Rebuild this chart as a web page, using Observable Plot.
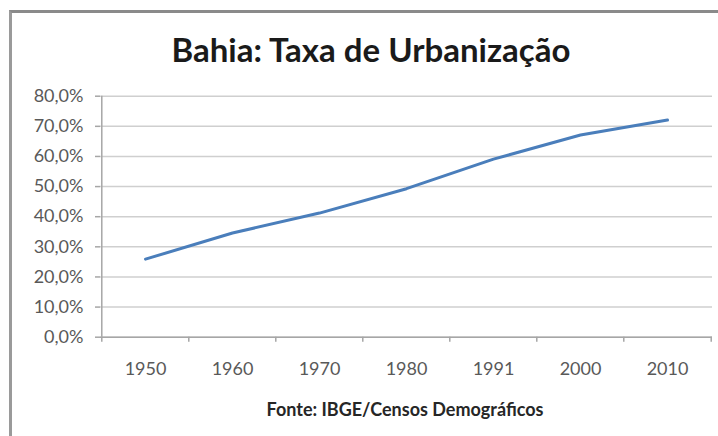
<!DOCTYPE html>
<html>
<head>
<meta charset="utf-8">
<script src="https://cdn.jsdelivr.net/npm/d3@7"></script>
<script src="https://cdn.jsdelivr.net/npm/@observablehq/plot@0.6"></script>
<style>
  html, body { margin: 0; padding: 0; background: #fff; }
  #wrap { position: relative; width: 718px; height: 436px; overflow: hidden; font-family: Lato, "Open Sans", sans-serif; }
  #border { position: absolute; left: 9px; top: 10px; width: 760px; height: 500px; border-top: 3px solid #8a8a8a; border-left: 3px solid #9a9a9a; box-sizing: border-box; }
  #title { position: absolute; left: 0; width: 742px; top: 29px; text-align: center; font-size: 33px; font-weight: bold; color: #1a1a1a; }
  #caption { position: absolute; left: 0; width: 810px; top: 398px; text-align: center; font-size: 18px; font-weight: bold; color: #262626; }
  #chart { position: absolute; left: 0; top: 0; }
</style>
</head>
<body>
<div id="wrap">
  <div id="border"></div>
  <div id="title">Bahia: Taxa de Urbanização</div>
  <div id="chart"></div>
  <div id="caption">Fonte: IBGE/Censos Demográficos</div>
</div>
<script>
const years = ["1950", "1960", "1970", "1980", "1991", "2000", "2010"];
const urbanRate = [25.9, 34.6, 41.2, 49.3, 59.1, 67.1, 72.1];
const yTicks = [0, 10, 20, 30, 40, 50, 60, 70, 80];

const data = years.map((y, i) => ({year: y, value: urbanRate[i]}));

const W = 718, H = 436;
const mL = 100, mR = 6, mT = 95.7, mB = H - 336.7;
const step = (W - mL - mR) / years.length;
const plotH = H - mT - mB;
const axisColor = "#a6a6a6";

const chart = Plot.plot({
  width: W,
  height: H,
  marginLeft: mL,
  marginRight: mR,
  marginTop: mT,
  marginBottom: mB,
  style: {fontFamily: "Lato, 'Open Sans', sans-serif", fontSize: "18px", color: "#595959", background: "transparent"},
  x: {type: "point", domain: years, padding: 0.5, axis: null},
  y: {domain: [0, 80], axis: null},
  marks: [
    Plot.gridY(yTicks, {stroke: "#cfcfcf", strokeOpacity: 1, strokeWidth: 1.5}),
    Plot.axisY(yTicks, {
      label: null,
      tickSize: 5, tickPadding: 12, stroke: axisColor, strokeWidth: 1.5,
      tickFormat: d => d.toFixed(1).replace(".", ",") + "%",
      fill: "#595959", fontSize: 18
    }),
    Plot.axisX(years, {label: null, tickSize: 0, tickPadding: 25, fill: "#595959", fontSize: 18}),
    Plot.ruleY([0], {stroke: axisColor, strokeWidth: 1.5}),
    Plot.ruleX(years.slice(0, 1), {stroke: axisColor, strokeWidth: 1.5, dx: -step / 2}),
    Plot.ruleX(years, {stroke: axisColor, strokeWidth: 1.5, dx: -step / 2, insetTop: plotH - 5, dy: 5}),
    Plot.ruleX(years.slice(-1), {stroke: axisColor, strokeWidth: 1.5, dx: step / 2, insetTop: plotH - 5, dy: 5}),
    Plot.line(data, {x: "year", y: "value", stroke: "#4a7ebb", strokeWidth: 3})
  ]
});
document.getElementById("chart").appendChild(chart);
</script>
</body>
</html>
